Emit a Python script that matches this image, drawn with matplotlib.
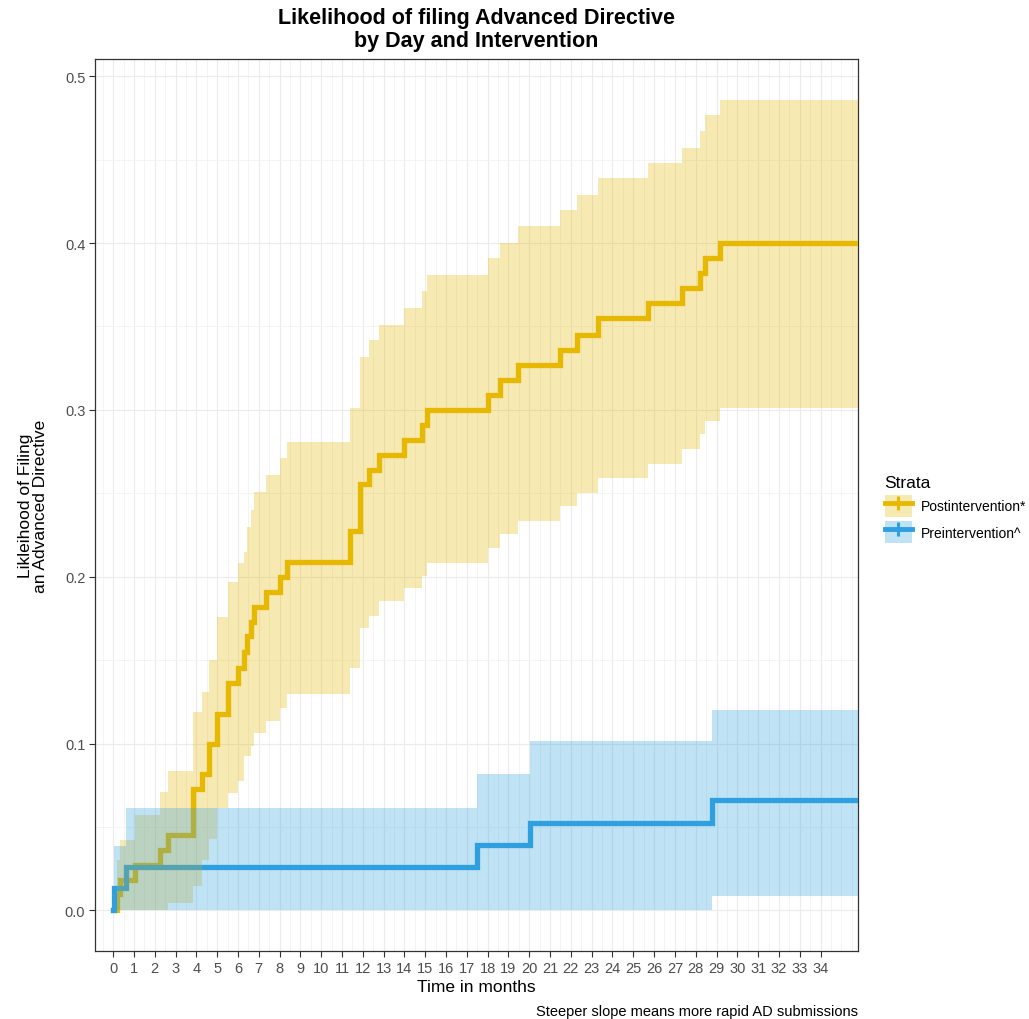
import numpy as np
import matplotlib
matplotlib.use('Agg')
import matplotlib.pyplot as plt
from matplotlib.patches import Patch
from matplotlib.lines import Line2D

plt.rcParams['font.family'] = ['Liberation Sans', 'DejaVu Sans']

# Postintervention* : step times (months), cumulative likelihood and 95% CI
post_time = [0, 0.17, 0.34, 1.06, 2.26, 2.66, 3.82, 4.26, 4.6, 4.98,
             5.5, 6.0, 6.3, 6.45, 6.62, 6.76, 7.35, 8.03, 8.38, 11.39,
             11.85, 12.3, 12.76, 13.96, 14.84, 15.08, 18.04, 18.6, 19.47, 21.47,
             22.3, 23.3, 25.7, 27.34, 28.2, 28.46, 29.18]
post_est = [0, 0.0096, 0.018, 0.027, 0.036, 0.0455, 0.0727, 0.082, 0.1, 0.118,
            0.1365, 0.1455, 0.155, 0.1645, 0.173, 0.182, 0.191, 0.2, 0.209, 0.2275,
            0.2555, 0.264, 0.273, 0.282, 0.291, 0.3, 0.309, 0.318, 0.327, 0.336,
            0.345, 0.355, 0.364, 0.373, 0.382, 0.391, 0.4]
post_lower = [0, 0, 0, 0, 0, 0.0047, 0.0146, 0.03, 0.0426, 0.0616,
              0.0706, 0.0775, 0.0925, 0.0925, 0.0985, 0.1065, 0.1135, 0.1215, 0.1295, 0.1455,
              0.1695, 0.1765, 0.1854, 0.1934, 0.2004, 0.2084, 0.2175, 0.2254, 0.2334, 0.2424,
              0.2504, 0.2594, 0.2674, 0.2764, 0.2854, 0.2934, 0.301]
post_upper = [0, 0.03, 0.042, 0.0575, 0.0707, 0.0835, 0.119, 0.131, 0.15, 0.176,
              0.197, 0.208, 0.215, 0.23, 0.24, 0.251, 0.261, 0.271, 0.281, 0.301,
              0.332, 0.342, 0.351, 0.361, 0.371, 0.381, 0.391, 0.4, 0.41, 0.42,
              0.429, 0.439, 0.448, 0.457, 0.467, 0.477, 0.486]

# Preintervention^
pre_time = [0, 0.03, 0.62, 17.48, 20.05, 28.78]
pre_est = [0, 0.0135, 0.026, 0.039, 0.0525, 0.066]
pre_lower = [0, 0, 0, 0, 0, 0.0086]
pre_upper = [0, 0.0386, 0.0615, 0.082, 0.1015, 0.12]

strata = ['Postintervention*', 'Preintervention^']
colors = ['#E7B800', '#2E9FDF']
x_ticks = list(range(35))

x_min, x_max = -0.87, 35.8

fig = plt.figure(figsize=(10.29, 10.20), dpi=100)
ax = fig.add_axes([95 / 1029, 1 - 952 / 1020, 763 / 1029, 892 / 1020])

groups = [(post_time, post_est, post_lower, post_upper),
          (pre_time, pre_est, pre_lower, pre_upper)]

# curves first, ribbons on top (as survminer does)
for (t, est, lo, hi), col in zip(groups, colors):
    tt = np.append(t, x_max)
    ax.step(tt, np.append(est, est[-1]), where='post', color=col, lw=3.8,
            zorder=3, solid_joinstyle='miter')
for (t, est, lo, hi), col in zip(groups, colors):
    tt = np.append(t, x_max)
    ax.fill_between(tt, np.append(lo, lo[-1]), np.append(hi, hi[-1]), step='post',
                    color=col, alpha=0.3, lw=0, zorder=4)

ax.set_xlim(x_min, x_max)
ax.set_ylim(-0.0243, 0.5103)
ax.set_xticks(x_ticks)
ax.set_xticks(np.arange(-0.5, 36, 0.5), minor=True)
ax.set_yticks([0, 0.1, 0.2, 0.3, 0.4, 0.5])
ax.set_yticklabels(['0.0', '0.1', '0.2', '0.3', '0.4', '0.5'])
ax.set_yticks(np.arange(0.05, 0.51, 0.1), minor=True)
ax.grid(which='major', color='#EBEBEB', lw=0.8, zorder=0)
ax.grid(which='minor', color='#F2F2F2', lw=0.6, zorder=0)
ax.set_axisbelow(True)
ax.tick_params(which='major', length=4, color='#333333', labelcolor='#4D4D4D',
               labelsize=10.5, pad=3)
ax.tick_params(which='minor', length=0)
for s in ax.spines.values():
    s.set_color('#333333')
    s.set_linewidth(0.9)

ax.set_title('Likelihood of filing Advanced Directive\nby Day and Intervention',
             fontsize=15.5, fontweight='bold', pad=9, linespacing=1.15)
ax.set_xlabel('Time in months', fontsize=12.5, labelpad=3)
ax.set_ylabel('Likleihood of Filing\nan Advanced Directive', fontsize=12.5,
              labelpad=12, linespacing=1.0)
fig.text(858 / 1029, 1 - 1012 / 1020, 'Steeper slope means more rapid AD submissions',
         ha='right', va='center', fontsize=10.5)

handles = [(Patch(facecolor=c, alpha=0.3, lw=0),
            Line2D([], [], color=c, lw=3.5, marker='|', markersize=10, mew=2.2))
           for c in colors]
fig.legend(handles, strata, title='Strata', loc='center left',
           bbox_to_anchor=(872 / 1029, 0.5), frameon=False, fontsize=10,
           title_fontsize=12.5, alignment='left', handlelength=2.0, handleheight=2.0,
           labelspacing=0.35, handletextpad=0.6)

fig.savefig('out.png', dpi=100)
